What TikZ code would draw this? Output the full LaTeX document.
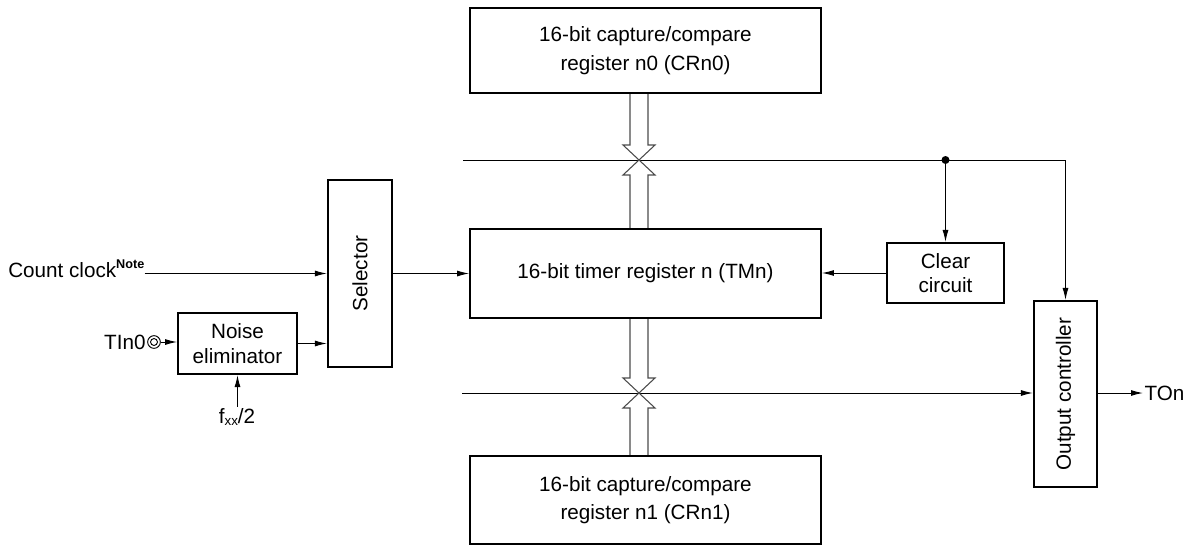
\documentclass[tikz,border=0pt]{standalone}
\usepackage{fontspec}
\setmainfont{Liberation Sans}
\usetikzlibrary{arrows.meta,calc}

\tikzset{
  block/.style={draw,line width=1.6pt,align=center,inner sep=0pt},
  sig/.style={line width=0.75pt,-{Latex[length=9pt,width=4.5pt]}},
  wire/.style={line width=0.75pt},
  bus/.style={line width=0.8pt,draw=black!70},
}
\newcommand\busarrow[2]{%
  \draw[bus] let \p1=(#1), \p2=(#2), \n1={\y2-sign(\y2-\y1)*11.25pt} in
    (\x2-6.75pt,\y1) -- (\x2-6.75pt,\n1) -- (\x2-12pt,\n1) -- (\x2,\y2)
    -- (\x2+12pt,\n1) -- (\x2+6.75pt,\n1) -- (\x2+6.75pt,\y1);}

\begin{document}
\begin{tikzpicture}[x=0.75pt,y=-0.75pt,font=\fontsize{15.5}{18.5}\selectfont]
    \useasboundingbox (0,0) rectangle (1196,546);
    \node[block,minimum width=263pt,minimum height=64pt] (cr0) at (645.5,50.5)
      {16-bit capture/compare\\[3pt] register n0 (CRn0)};
    \node[block,minimum width=263pt,minimum height=67pt] (tm) at (645.5,273.5)
      {16-bit timer register n (TMn)};
    \node[block,minimum width=263pt,minimum height=66pt] (cr1) at (645.5,500)
      {16-bit capture/compare\\[3pt] register n1 (CRn1)};
    \node[block,minimum width=48pt,minimum height=140pt] (sel) at (360,273.5)
      {\rotatebox{90}{Selector}};
    \node[block,minimum width=89pt,minimum height=45.75pt] (noise) at (237.5,343.5)
      {Noise\\eliminator};
    \node[block,minimum width=87.75pt,minimum height=45pt] (clr) at (945.5,273)
      {Clear\\circuit};
    \node[block,minimum width=47.25pt,minimum height=139.5pt] (out) at (1065.5,394)
      {\rotatebox{90}{Output controller}};

    \node[anchor=base west,inner sep=0pt] (cc) at (8,277)
      {Count clock\raisebox{6.75pt}{\fontsize{9.5}{10}\selectfont\bfseries Note}};
    \node[circle,draw,line width=0.7pt,minimum size=9.5pt,inner sep=0pt] (pin) at (154,342) {};
    \fill[white] (pin.center) circle[radius=2.6pt];
    \draw[line width=0.7pt] (pin.center) circle[radius=2.6pt];
    \node[anchor=east,inner sep=1pt] (tin) at (pin.west) {TIn0};
    \node[inner sep=1pt] (fxx) at (237,417) {f\raisebox{-1.5pt}{\fontsize{10}{11}\selectfont xx}/2};
    \node[anchor=west,inner sep=1pt] (ton) at (1143,393) {TOn};

    \coordinate (xa) at (639,160);
    \coordinate (xb) at (639,393);
    \coordinate (la) at (463,160);
    \coordinate (lb) at (462,393);
    \coordinate (dot) at (clr.north |- la);

    \draw[sig] (cc.east |- sel.west) -- (sel.west);
    \draw[sig] (pin.east) -- (pin.east -| noise.west);
    \draw[sig] (noise.south |- fxx.north) -- (noise.south);
    \draw[sig] (noise.east) -- (noise.east -| sel.west);
    \draw[sig] (sel.east) -- (tm.west);
    \draw[sig] (clr.west) -- (clr.west -| tm.east);
    \draw[sig] (la) -| (out.north);
    \fill (dot) circle[radius=3pt];
    \draw[sig] (dot) -- (clr.north);
    \draw[sig] (lb) -- (lb -| out.west);
    \draw[sig] (out.east |- ton.west) -- (ton.west);

    \busarrow{cr0.south -| xa}{xa}
    \busarrow{tm.north -| xa}{xa}
    \busarrow{tm.south -| xb}{xb}
    \busarrow{cr1.north -| xb}{xb}
  \end{tikzpicture}
\end{document}
